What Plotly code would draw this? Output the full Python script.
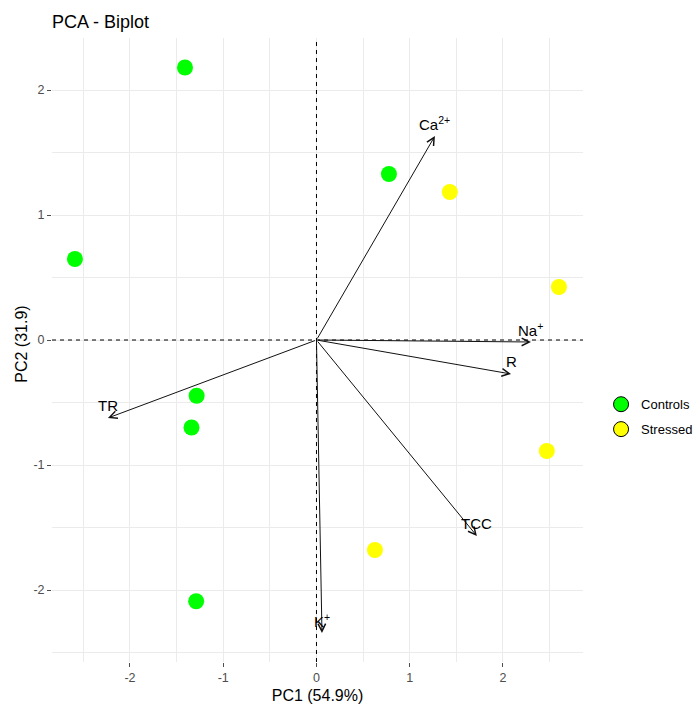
import plotly.graph_objects as go

# ---- data ----
controls_pc1 = [-1.41, -2.59, 0.777, -1.285, -1.34, -1.29]
controls_pc2 = [2.18, 0.648, 1.328, -0.446, -0.70, -2.09]
stressed_pc1 = [1.43, 2.60, 2.47, 0.627]
stressed_pc2 = [1.184, 0.424, -0.888, -1.68]

var_labels = ["Ca<sup>2+</sup>", "Na<sup>+</sup>", "R", "TR", "K<sup>+</sup>", "TCC"]
var_pc1 = [1.27, 2.30, 2.086, -2.236, 0.059, 1.72]
var_pc2 = [1.632, -0.016, -0.272, -0.624, -2.344, -1.568]

x_ticks = [-2, -1, 0, 1, 2]
y_ticks = [-2, -1, 0, 1, 2]

FONT = "Liberation Sans, Arial, sans-serif"
GREEN = "#00FF00"
YELLOW = "#FFFF00"

fig = go.Figure()

# points (no outline)
fig.add_trace(go.Scatter(x=controls_pc1, y=controls_pc2, mode="markers",
                         marker=dict(size=16, color=GREEN, line=dict(width=0)),
                         showlegend=False, name="Controls"))
fig.add_trace(go.Scatter(x=stressed_pc1, y=stressed_pc2, mode="markers",
                         marker=dict(size=16, color=YELLOW, line=dict(width=0)),
                         showlegend=False, name="Stressed"))
# legend entries (outlined)
fig.add_trace(go.Scatter(x=[None], y=[None], mode="markers", name="Controls", legendgroup="c",
                         marker=dict(size=15, color=GREEN, line=dict(width=1, color="black"))))
fig.add_trace(go.Scatter(x=[None], y=[None], mode="markers", name="Stressed", legendgroup="s",
                         marker=dict(size=15, color=YELLOW, line=dict(width=1, color="black"))))

# reference dashed lines
fig.add_hline(y=0, line=dict(color="black", width=1, dash="4px,4px"))
fig.add_vline(x=0, line=dict(color="black", width=1, dash="4px,4px"))

# variable arrows + labels
for lab, vx, vy in zip(var_labels, var_pc1, var_pc2):
    fig.add_annotation(x=vx, y=vy, ax=0, ay=0, xref="x", yref="y", axref="x", ayref="y",
                       text="", showarrow=True, arrowhead=5, arrowsize=1.5, arrowwidth=1,
                       arrowcolor="#111111", standoff=0, startstandoff=0)
    fig.add_annotation(x=vx, y=vy, xref="x", yref="y", text=lab, showarrow=False,
                       yshift=13, font=dict(family=FONT, size=15, color="black"))

axis_common = dict(
    showgrid=True, gridcolor="#EBEBEB", gridwidth=1,
    zeroline=False, showline=False, automargin=False,
    ticks="outside", ticklen=4, tickcolor="#4D4D4D", tickwidth=1,
    tickfont=dict(family=FONT, size=12.5, color="#4D4D4D"),
    minor=dict(dtick=0.5, showgrid=True, gridcolor="#EBEBEB", gridwidth=1, ticks=""),
)

fig.update_xaxes(range=[-2.836, 2.858], tickvals=x_ticks, ticktext=[str(v) for v in x_ticks],
                 title=dict(text="PC1 (54.9%)", font=dict(family=FONT, size=16, color="black"), standoff=6),
                 **axis_common)
fig.update_yaxes(range=[-2.576, 2.416], tickvals=y_ticks, ticktext=[str(v) for v in y_ticks],
                 **axis_common)

# y-axis title as rotated annotation (precise placement)
fig.add_annotation(text="PC2 (31.9)", xref="paper", yref="paper", x=-0.0565, y=0.51,
                   xanchor="center", yanchor="middle", textangle=-90, showarrow=False,
                   font=dict(family=FONT, size=16, color="black"))

fig.update_layout(
    width=694, height=704,
    margin=dict(l=52, r=111, t=38, b=42, autoexpand=False),
    plot_bgcolor="white", paper_bgcolor="white",
    font=dict(family=FONT, color="black"),
    title=dict(text="PCA - Biplot", x=52/694, xref="container", xanchor="left",
               y=1 - 22/704, yref="container", yanchor="middle",
               font=dict(family=FONT, size=18, color="black")),
    legend=dict(x=1.034, y=0.393, xanchor="left", yanchor="middle",
                font=dict(family=FONT, size=13, color="black"),
                bgcolor="rgba(0,0,0,0)", itemsizing="trace", tracegroupgap=5),
)

fig.write_html("out.html", config={"displayModeBar": False},
               post_script="document.body.style.margin='0';document.body.style.overflow='hidden';")
